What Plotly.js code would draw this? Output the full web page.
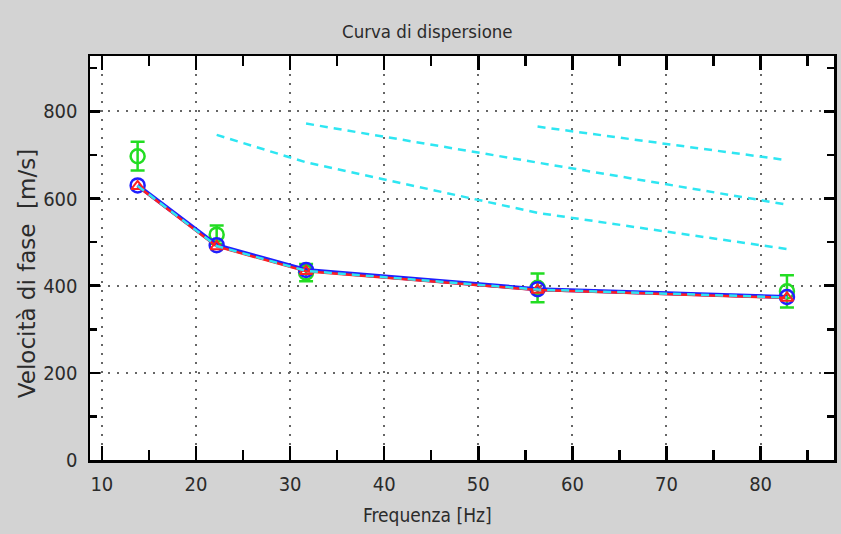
<!DOCTYPE html>
<html>
<head>
<meta charset="utf-8">
<script src="https://cdn.plot.ly/plotly-3.0.1.min.js"></script>
<style>html,body{margin:0;padding:0;background:#d3d3d3;}#chart{width:841px;height:534px;}</style>
</head>
<body>
<div id="chart"></div>
<script>
// Frequencies of the picked points [Hz]
const freq = [13.8, 22.2, 31.7, 56.3, 82.8];
// Experimental phase velocity (green) and its error
const expVel = [697, 517, 430, 395, 387];
const expErr = [33, 21, 20, 33, 37];
// Fitted curve (blue circles)
const blueVel = [630, 493, 436, 392, 374];
// Theoretical curve (red triangles)
const redVel = [628, 490, 433, 390, 372];
// Fundamental mode (cyan dashed)
const fundVel = [629, 491, 434, 391, 373];
// Higher modes (cyan dashed)
const mode1Freq = [22.2, 31.7, 56.3, 82.8];
const mode1Vel = [746, 683, 567, 484];
const mode2Freq = [31.7, 56.3, 82.8];
const mode2Vel = [772, 683, 586];
const mode3Freq = [56.3, 82.8];
const mode3Vel = [765, 688];
const xTicks = [10, 20, 30, 40, 50, 60, 70, 80];
const yTicks = [0, 200, 400, 600, 800];

const cyan = '#2ee6f2';
const narrow = '"Liberation Sans Narrow", "DejaVu Sans Condensed", "Liberation Sans", sans-serif';

const traces = [
  {x: freq, y: expVel, mode: 'markers', type: 'scatter',
   marker: {symbol: 'circle-open', size: 14, color: '#22dd22', line: {width: 2.5, color: '#22dd22'}},
   error_y: {type: 'data', array: expErr, visible: true, color: '#22dd22', thickness: 2.5, width: 7}},
  {x: freq, y: blueVel, mode: 'lines+markers', type: 'scatter',
   line: {color: '#1f1fff', width: 4},
   marker: {symbol: 'circle-open', size: 14, color: '#1f1fff', line: {width: 2.5, color: '#1f1fff'}}},
  {x: freq, y: redVel, mode: 'lines+markers', type: 'scatter',
   line: {color: '#ff2020', width: 2.5},
   marker: {symbol: 'triangle-up-open', size: 11, color: '#ff2020', line: {width: 2, color: '#ff2020'}}},
  {x: freq, y: fundVel, mode: 'lines', type: 'scatter',
   line: {color: cyan, width: 2.5, dash: '8px,6px'}},
  {x: mode1Freq, y: mode1Vel, mode: 'lines', type: 'scatter',
   line: {color: cyan, width: 2.5, dash: '8px,6px'}},
  {x: mode2Freq, y: mode2Vel, mode: 'lines', type: 'scatter',
   line: {color: cyan, width: 2.5, dash: '8px,6px'}},
  {x: mode3Freq, y: mode3Vel, mode: 'lines', type: 'scatter',
   line: {color: cyan, width: 2.5, dash: '8px,6px'}}
];

const axisCommon = {
  showline: true, linecolor: '#000', linewidth: 2.5, mirror: 'allticks',
  ticks: 'inside', tickcolor: '#000', tickwidth: 2.5,
  showgrid: true, gridcolor: '#666', gridwidth: 2, griddash: '2px,7px',
  zeroline: false, tickfont: {family: narrow, size: 20, color: '#2b2b2b'}
};

const layout = {
  width: 841, height: 534,
  paper_bgcolor: '#d3d3d3', plot_bgcolor: '#ffffff',
  margin: {l: 90, r: 7, t: 56, b: 74},
  showlegend: false,
  xaxis: Object.assign({}, axisCommon, {
    range: [8.74, 87.8], tickvals: xTicks, ticklen: 14, ticklabelstandoff: 4,
    minor: {dtick: 5, tick0: 0, ticks: 'inside', ticklen: 10, tickcolor: '#000', tickwidth: 2.5, showgrid: false}
  }),
  yaxis: Object.assign({}, axisCommon, {
    range: [0, 927], tickvals: yTicks, ticklen: 10, ticklabelstandoff: 6,
    minor: {dtick: 100, tick0: 0, ticks: 'inside', ticklen: 7, tickcolor: '#000', tickwidth: 2.5, showgrid: false}
  }),
  annotations: [
    {text: 'Curva di dispersione', xref: 'paper', yref: 'paper', x: 0.453, y: 1, yshift: 25,
     xanchor: 'center', yanchor: 'middle', showarrow: false,
     font: {family: narrow, size: 18.5, color: '#2b2b2b'}},
    {text: 'Frequenza [Hz]', xref: 'paper', yref: 'paper', x: 0.453, y: 0, yshift: -55,
     xanchor: 'center', yanchor: 'middle', showarrow: false,
     font: {family: narrow, size: 19, color: '#2b2b2b'}},
    {text: 'Velocità di fase&nbsp;&nbsp;[m/s]', xref: 'paper', yref: 'paper', x: 0, xshift: -63, y: 0.46,
     xanchor: 'center', yanchor: 'middle', showarrow: false, textangle: -90,
     font: {family: '"DejaVu Sans", sans-serif', size: 23, color: '#2b2b2b'}}
  ]
};

Plotly.newPlot('chart', traces, layout, {displayModeBar: false, staticPlot: true});
</script>
</body>
</html>
